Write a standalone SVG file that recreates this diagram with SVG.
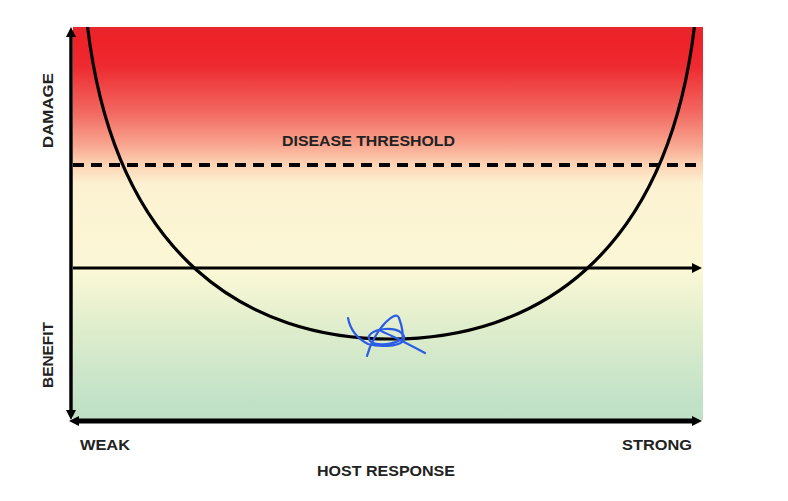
<svg xmlns="http://www.w3.org/2000/svg" width="788" height="501" viewBox="0 0 788 501">
<defs>
<linearGradient id="bg" x1="0" y1="0" x2="0" y2="1">
<stop offset="0" stop-color="#e6262c"/>
<stop offset="0.03" stop-color="#ee2229"/>
<stop offset="0.10" stop-color="#ee2a30"/>
<stop offset="0.22" stop-color="#f26a62"/>
<stop offset="0.30" stop-color="#f8a58f"/>
<stop offset="0.35" stop-color="#fcd3b3"/>
<stop offset="0.40" stop-color="#fcf2d2"/>
<stop offset="0.62" stop-color="#fbf8d6"/>
<stop offset="0.77" stop-color="#deedcc"/>
<stop offset="0.95" stop-color="#c2e2c8"/>
<stop offset="1" stop-color="#c0e0c6"/>
</linearGradient>
<clipPath id="plot"><rect x="73" y="27" width="630" height="393"/></clipPath>
<marker id="arr" viewBox="0 0 10 10" refX="1" refY="5" markerWidth="10" markerHeight="10" markerUnits="userSpaceOnUse" orient="auto-start-reverse">
<path d="M0,0 L10,5 L0,10 z" fill="#000"/>
</marker>
</defs>
<style>
.lbl{font-family:"Liberation Sans",Arial,sans-serif;font-weight:700;font-size:15px;fill:#222;}
.ax{stroke:#000;fill:none;}
</style>
<g id="background">
<rect x="73" y="27" width="630" height="393" fill="url(#bg)"/>
</g>
<g id="connectors">
<line id="threshold" class="ax" x1="73" y1="165" x2="703" y2="165" stroke-width="4" stroke-dasharray="11 7"/>
<line id="midline" class="ax" x1="73" y1="268" x2="693" y2="268" stroke-width="3" marker-end="url(#arr)"/>
<line id="yaxis" class="ax" x1="71" y1="36" x2="71" y2="411" stroke-width="3.5" marker-start="url(#arr)" marker-end="url(#arr)"/>
<line id="xaxis" class="ax" x1="78" y1="421" x2="693" y2="421" stroke-width="5" marker-start="url(#arr)" marker-end="url(#arr)"/>
<path id="curve" class="ax" clip-path="url(#plot)" d="M87,22 C114,260 250,339 391,339 C532,339 668,260 695,22" stroke-width="3.2"/>
</g>
<g id="scribble" fill="none" stroke="#2b5ce6" stroke-width="2.2" stroke-linecap="round" stroke-linejoin="round">
<path d="M348,318 C350,328 356,338 368,344 C378,347 398,347 403,341 C407,334 398,328 385,329 C372,330 366,336 370,341 C375,346 392,345 400,340"/>
<path d="M367,356 C370,344 378,330 386,322 C391,317 397,313 399,318 C402,326 404,334 402,342"/>
<path d="M381,331 C395,337 410,345 425,353"/>
</g>
<g id="label-threshold"><text class="lbl" x="282" y="146" textLength="173" lengthAdjust="spacingAndGlyphs">DISEASE THRESHOLD</text></g>
<g id="label-damage"><text class="lbl" transform="translate(53,148) rotate(-90)" x="0" y="0" textLength="75" lengthAdjust="spacingAndGlyphs">DAMAGE</text></g>
<g id="label-benefit"><text class="lbl" transform="translate(53,388) rotate(-90)" x="0" y="0" textLength="66" lengthAdjust="spacingAndGlyphs">BENEFIT</text></g>
<g id="label-weak"><text class="lbl" x="80" y="450" textLength="50" lengthAdjust="spacingAndGlyphs">WEAK</text></g>
<g id="label-strong"><text class="lbl" x="622" y="450" textLength="70" lengthAdjust="spacingAndGlyphs">STRONG</text></g>
<g id="label-host"><text class="lbl" x="317" y="476" textLength="138" lengthAdjust="spacingAndGlyphs">HOST RESPONSE</text></g>
</svg>
